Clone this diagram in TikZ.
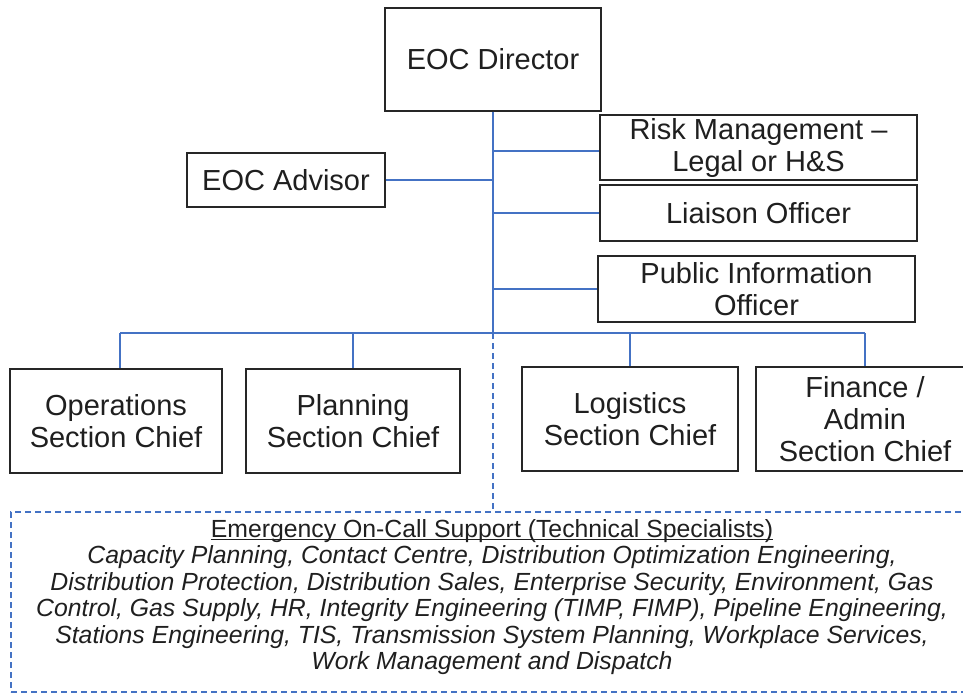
\documentclass[tikz,border=0pt]{standalone}
\usepackage{fontspec}
\setmainfont{Liberation Sans}
\definecolor{lineblue}{HTML}{4472C4}
\definecolor{boxgray}{HTML}{262626}
\newcommand\myuline[1]{\setbox0\hbox{#1}\rlap{\rule[-3pt]{\wd0}{1pt}}\box0}
\begin{document}
\begin{tikzpicture}[x=1pt,y=-1pt,
  box/.style={draw=boxgray, line width=1.4pt, rectangle, align=center, inner sep=0pt,
    font=\fontsize{29}{32}\selectfont, text=black!88},
  conn/.style={draw=lineblue, line width=1.3pt},
  dashconn/.style={draw=lineblue, line width=1.3pt, dash pattern=on 6pt off 4pt},
  supportbox/.style={draw=lineblue, line width=1.3pt, dash pattern=on 6pt off 4pt, rectangle, inner sep=0pt}]
\useasboundingbox (0,0) rectangle (963,694);
\clip (0,0) rectangle (963,694);

\node[box, minimum width=216pt, minimum height=103pt] (dir) at (493,59.5) {EOC Director};
\node[box, minimum width=317pt, minimum height=65pt] (risk) at (758.5,147.5) {Risk Management –\\Legal or H\&S};
\node[box, minimum width=317pt, minimum height=56pt] (liai) at (758.5,213) {Liaison Officer};
\node[box, minimum width=317pt, minimum height=66pt] (pio) at (756.5,289) {Public Information\\Officer};
\node[box, minimum width=198pt, minimum height=54pt] (adv) at (286,180) {EOC Advisor};

\node[box, minimum width=212pt, minimum height=104pt] (ops) at (116,421) {Operations\\Section Chief};
\node[box, minimum width=214pt, minimum height=104pt] (plan) at (353,421) {Planning\\Section Chief};
\node[box, minimum width=216pt, minimum height=104pt] (logi) at (630,419) {Logistics\\Section Chief};
\node[box, minimum width=218pt, minimum height=104pt] (fin) at (865,419) {Finance /\\Admin\\Section Chief};

\node[supportbox, minimum width=965pt, minimum height=180pt] (support) at (493.5,602) {};
\node[align=center, inner sep=0pt, font=\fontsize{24.8}{26.4}\selectfont, text=black!88] (supporttext) at (492,597)
{\myuline{Emergency On-Call Support (Technical Specialists)}\\
\itshape Capacity Planning, Contact Centre, Distribution Optimization Engineering,\\
\itshape Distribution Protection, Distribution Sales, Enterprise Security, Environment, Gas\\
\itshape Control, Gas Supply, HR, Integrity Engineering (TIMP, FIMP), Pipeline Engineering,\\
\itshape Stations Engineering, TIS, Transmission System Planning, Workplace Services,\\
\itshape Work Management and Dispatch};

\coordinate (bus) at (493,333);

\draw[conn] (dir.south) -- (bus);
\draw[conn] ([yshift=-3.5pt]risk.west -| bus) -- ([yshift=-3.5pt]risk.west);
\draw[conn] (adv.east) -- (adv.east -| bus);
\draw[conn] (liai.west -| bus) -- (liai.west);
\draw[conn] (pio.west -| bus) -- (pio.west);

\draw[conn] ([xshift=4pt]ops.north |- bus) -- (fin.north |- bus);
\draw[conn] ([xshift=4pt]ops.north |- bus) -- ([xshift=4pt]ops.north);
\draw[conn] (plan.north |- bus) -- (plan.north);
\draw[conn] (logi.north |- bus) -- (logi.north);
\draw[conn] (fin.north |- bus) -- (fin.north);

\draw[dashconn] (bus) -- (bus |- support.north);
\end{tikzpicture}
\end{document}
